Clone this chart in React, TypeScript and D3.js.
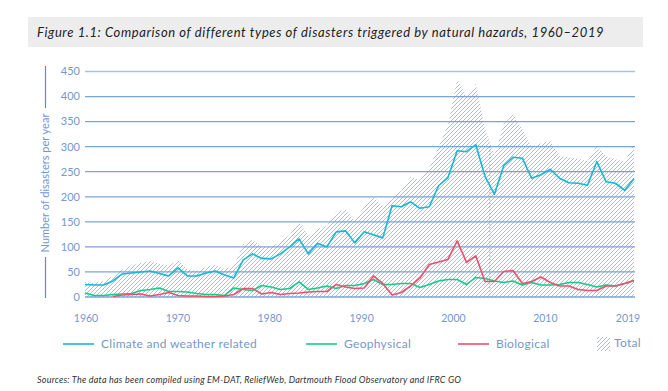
import React from 'react';
import * as d3 from 'd3';

// years 1960..2019
const years = d3.range(1960, 2020);

// number of disasters per year
const climate = [
  25, 24, 24, 32, 46, 48, 50, 52, 47, 42,
  58, 42, 42, 48, 52, 44, 38, 74, 86, 77,
  76, 86, 100, 116, 86, 107, 100, 130, 132, 108,
  130, 124, 118, 182, 180, 190, 177, 180, 222, 238,
  292, 290, 304, 240, 205, 262, 279, 277, 237, 244,
  255, 237, 228, 227, 223, 270, 230, 227, 213, 236,
];
const geophysical = [
  8, 3, 3, 5, 6, 7, 13, 15, 18, 11,
  11, 10, 7, 5, 5, 3, 18, 15, 13, 23,
  20, 15, 17, 30, 15, 18, 22, 17, 23, 23,
  27, 35, 25, 25, 27, 27, 19, 25, 32, 35,
  35, 25, 39, 37, 32, 29, 32, 24, 29, 24,
  24, 25, 29, 29, 25, 20, 24, 22, 27, 33,
];
const biological: (number | null)[] = [
  null, null, null, 1, 4, 5, 6, 2, 5, 9,
  3, 2, 2, 1, 1, 2, 5, 17, 17, 6,
  9, 5, 7, 8, 10, 11, 11, 25, 20, 17,
  18, 42, 27, 4, 9, 22, 38, 65, 70, 75,
  112, 69, 82, 31, 31, 51, 53, 27, 31, 40,
  29, 22, 22, 15, 13, 13, 22, 22, 27, 33,
];
const total = [
  30, 28, 32, 42, 55, 63, 68, 72, 66, 63,
  74, 56, 52, 60, 64, 56, 62, 105, 114, 100,
  100, 110, 124, 150, 122, 136, 142, 170, 174, 152,
  180, 200, 182, 200, 212, 240, 234, 258, 300, 342,
  436, 398, 425, 335, 282, 345, 364, 335, 300, 307,
  312, 282, 279, 276, 271, 302, 281, 275, 270, 305,
];
const xTickYears = [1960, 1970, 1980, 1990, 2000, 2010, 2019];

const legendItems = [
  { label: 'Climate and weather related', color: '#14b8d9', x: 63 },
  { label: 'Geophysical', color: '#14cc86', x: 306 },
  { label: 'Biological', color: '#f04f6c', x: 458 },
];

const W = 668;
const H = 391;
const axisBlue = '#7398d0';
const gridBlue = '#6c9bd0';
const font = 'Lato, "Open Sans", sans-serif';

const App: React.FC = () => {
  const x = d3.scaleLinear().domain([1960, 2019]).range([85, 634]);
  const xLabel = d3.scaleLinear().domain([1960, 2019]).range([86, 628]);
  const y = d3.scaleLinear().domain([0, 450]).range([297, 71.5]);

  const area = d3.area<number>()
    .x((_, i) => x(years[i]))
    .y0(y(0))
    .y1((d) => y(d));

  const line = d3.line<number | null>()
    .defined((d) => d !== null)
    .x((_, i) => x(years[i]))
    .y((d) => y(d as number));

  const series = [
    { values: geophysical, color: '#14cc86' },
    { values: biological, color: '#f04f6c' },
    { values: climate, color: '#14b8d9' },
  ];

  return (
    <svg width={W} height={H} style={{ position: 'absolute', left: 0, top: 0, background: '#fff' }}>
      <defs>
        <pattern id="hatch" width="4" height="4" patternUnits="userSpaceOnUse">
          <rect width="4" height="4" fill="#fff" />
          <path d="M-1,1 l2,-2 M0,4 l4,-4 M3,5 l2,-2" stroke="#a6aec0" strokeWidth="0.85" />
        </pattern>
      </defs>

      {/* title band */}
      <rect x={28} y={17} width={615} height={30} fill="#ededed" />
      <text x={37} y={36.5} fontFamily={font} fontStyle="italic" fontSize={13} letterSpacing={0.6} fill="#222">
        Figure 1.1: Comparison of different types of disasters triggered by natural hazards,  1960–2019
      </text>

      {/* total hatched area */}
      <path d={area(total) || ''} fill="url(#hatch)" />

      {/* gridlines + y labels */}
      {y.ticks(9).map((t) => (
        <g key={t}>
          <line x1={85} x2={635} y1={y(t)} y2={y(t)} stroke={gridBlue} strokeWidth={t === 450 ? 1.6 : 1.3} strokeOpacity={t === 450 ? 0.6 : 0.9} />
          <text x={80} y={y(t)} dy="0.35em" textAnchor="end" fontFamily={font} fontSize={11} fill={axisBlue}>
            {t}
          </text>
        </g>
      ))}

      {/* faint dotted marker */}
      <line x1={x(2003.5)} x2={x(2003.5)} y1={y(300)} y2={y(0)} stroke="#8890a0" strokeWidth={0.7} strokeDasharray="1.5,2" />

      {/* series */}
      {series.map((s) => (
        <path key={s.color} d={line(s.values) || ''} fill="none" stroke={s.color} strokeWidth={1.6} strokeLinejoin="round" />
      ))}

      {/* x labels */}
      {xTickYears.map((yr) => (
        <text key={yr} x={xLabel(yr)} y={322} textAnchor="middle" fontFamily={font} fontSize={10.5} fill={axisBlue}>
          {yr}
        </text>
      ))}

      {/* y axis title */}
      <line x1={45.5} x2={45.5} y1={66} y2={108} stroke="#5f8ccc" strokeWidth={1.2} />
      <line x1={45.5} x2={45.5} y1={257} y2={298} stroke="#5f8ccc" strokeWidth={1.2} />
      <text transform="translate(45,183) rotate(-90)" textAnchor="middle" dy="0.35em" fontFamily={font} fontSize={11} fill={axisBlue}>
        Number of disasters per year
      </text>

      {/* legend */}
      {legendItems.map((d) => (
        <g key={d.label}>
          <line x1={d.x} x2={d.x + 31} y1={344} y2={344} stroke={d.color} strokeWidth={1.6} />
          <text x={d.x + 38} y={344} dy="0.35em" fontFamily={font} fontSize={12} letterSpacing={0.3} fill={axisBlue}>
            {d.label}
          </text>
        </g>
      ))}
      <rect x={597} y={337} width={13} height={14} fill="url(#hatch)" />
      <text x={614} y={343} dy="0.35em" fontFamily={font} fontSize={12} letterSpacing={0.3} fill={axisBlue}>
        Total
      </text>

      {/* source */}
      <text x={37} y={383} fontFamily={font} fontStyle="italic" fontSize={9} letterSpacing={0.22} fill="#333">
        Sources: The data has been compiled using EM-DAT, ReliefWeb, Dartmouth Flood Observatory and IFRC GO
      </text>
    </svg>
  );
};

export default App;
